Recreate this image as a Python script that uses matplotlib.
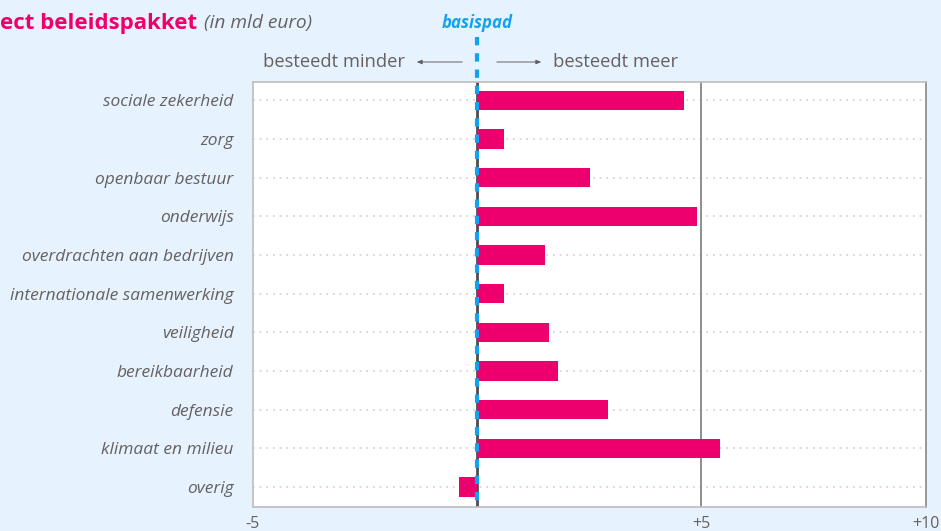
import matplotlib
matplotlib.use("Agg")
import matplotlib.pyplot as plt

categories = ["sociale zekerheid", "zorg", "openbaar bestuur", "onderwijs",
              "overdrachten aan bedrijven", "internationale samenwerking",
              "veiligheid", "bereikbaarheid", "defensie", "klimaat en milieu", "overig"]
values = [4.62, 0.6, 2.51, 4.9, 1.52, 0.6, 1.61, 1.81, 2.92, 5.42, -0.4]
tick_values = [-5, 5, 10]
tick_labels = ["-5", "+5", "+10"]

BG = "#e6f3fe"
MAGENTA = "#ed006e"
BLUE = "#12a2f2"
GRAY = "#666060"

plt.rcParams['font.family'] = ['Open Sans', 'DejaVu Sans']

W, H = 941, 531
fig = plt.figure(figsize=(W / 100, H / 100), dpi=100, facecolor=BG)
ax = fig.add_axes([253 / W, 1 - 507 / H, (925.5 - 253) / W, (507 - 82) / H])
ax.set_facecolor("white")

y = list(range(len(categories)))
ax.set_xlim(-5, 10)
ax.set_ylim(len(categories) - 0.48, -0.47)

for yi in y:
    ax.plot([-5, 10], [yi, yi], linestyle=(0, (1, 3)), color="#d9c9cf", lw=1.2, zorder=1)
ax.axvline(5, color="#8a8585", lw=1.3, zorder=1)
ax.axvline(0, color="#4d4d4d", lw=2.0, zorder=2)

ax.barh(y, values, height=0.5, color=MAGENTA, zorder=3)

ax.set_yticks(y)
ax.set_yticklabels(categories, fontsize=12.5, style="italic", color=GRAY)
ax.tick_params(axis="y", length=0, pad=14)
ax.set_xticks(tick_values)
ax.set_xticklabels(tick_labels, fontsize=11.5, color=GRAY)
ax.tick_params(axis="x", length=0, pad=6.5)

for side in ["left", "top", "bottom"]:
    ax.spines[side].set_color("#bdbdbd")
    ax.spines[side].set_linewidth(1.2)
ax.spines["right"].set_color("#8f8f8f")
ax.spines["right"].set_linewidth(1.3)

# basispad dashed line (figure-level so it extends above the axes)
x0 = ax.transData.transform((0, 0))[0] / fig.dpi / (W / 100)
fig.add_artist(plt.Line2D([x0, x0], [1 - 37 / H, 1 - 507 / H], transform=fig.transFigure,
                          color=BLUE, lw=3, linestyle=(0, (2.0, 1.9)), zorder=10))
fig.text(x0, 1 - 23 / H, "basispad", ha="center", va="center", color=BLUE,
         fontsize=12.2, fontweight="bold", style="italic")

# arrows
ya = 1 - 62 / H
fig.text(405 / W, ya, "besteedt minder", ha="right", va="center", color=GRAY, fontsize=13.2)
fig.text(553 / W, ya, "besteedt meer", ha="left", va="center", color=GRAY, fontsize=13.2)
fig.add_artist(matplotlib.patches.FancyArrowPatch((465 / W, ya), (414 / W, ya), transform=fig.transFigure,
               arrowstyle="-|>,head_length=3,head_width=1.3", color=GRAY, lw=0.7))
fig.add_artist(matplotlib.patches.FancyArrowPatch((494 / W, ya), (544 / W, ya), transform=fig.transFigure,
               arrowstyle="-|>,head_length=3,head_width=1.3", color=GRAY, lw=0.7))

# title (cut off at left in the reference)
fig.text(0, 1 - 23 / H, "ect beleidspakket", ha="left", va="center", color=MAGENTA,
         fontsize=16, fontweight="bold")
fig.text(204 / W, 1 - 23 / H, "(in mld euro)", ha="left", va="center", color=GRAY,
         fontsize=13.8, style="italic")

fig.savefig("out.png", dpi=100, facecolor=BG)
